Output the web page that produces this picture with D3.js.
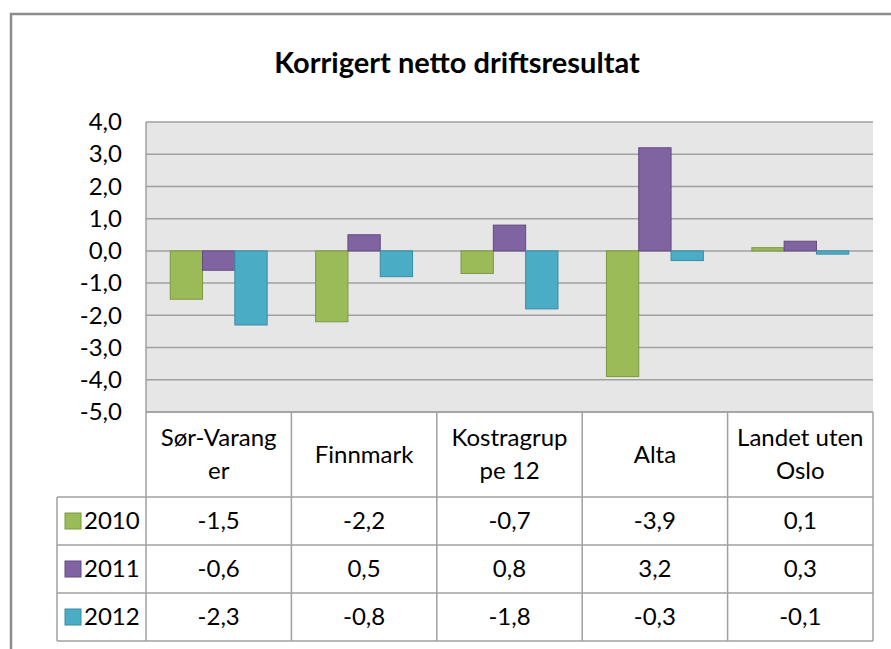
<!DOCTYPE html>
<html>
<head>
<meta charset="utf-8">
<script src="https://cdn.jsdelivr.net/npm/d3@7"></script>
<style>
  body { margin: 0; background: #fff; }
  svg { display: block; font-family: Lato, "Open Sans", sans-serif; }
</style>
</head>
<body>
<script>
// data
let categories = ["Sør-Varanger", "Finnmark", "Kostragruppe 12", "Alta", "Landet uten Oslo"]
let categoryLines = [["Sør-Varang", "er"], ["Finnmark"], ["Kostragrup", "pe 12"], ["Alta"], ["Landet uten", "Oslo"]]
let series = ["2010", "2011", "2012"]
let values2010 = [-1.5, -2.2, -0.7, -3.9, 0.1]
let values2011 = [-0.6, 0.5, 0.8, 3.2, 0.3]
let values2012 = [-2.3, -0.8, -1.8, -0.3, -0.1]
let yTicks = [4, 3, 2, 1, 0, -1, -2, -3, -4, -5]
let title = "Korrigert netto driftsresultat"

let colors = ["#9BBB59", "#8064A2", "#4BACC6"]
let strokes = ["#7A9A3E", "#604A80", "#3A8CA3"]
let allValues = [values2010, values2011, values2012]

let W = 891, H = 649
let plotLeft = 146, plotRight = 873, plotTop = 122, plotBottom = 412
let headerBottom = 497
let rowH = (641 - headerBottom) / 3

let fmt = d3.formatLocale({decimal: ",", thousands: " ", grouping: [3], currency: ["", ""], minus: "-"}).format(".1f")

let svg = d3.select("body").append("svg")
    .attr("width", W)
    .attr("height", H)

// outer chart border
svg.append("rect")
    .attr("x", 11)
    .attr("y", 14)
    .attr("width", W + 20)
    .attr("height", H + 20)
    .style("fill", "#fff")
    .style("stroke", "#8c8c8c")
    .style("stroke-width", 2.5)

// title
svg.append("text")
    .attr("x", 457)
    .attr("y", 73)
    .attr("text-anchor", "middle")
    .style("font-size", "29px")
    .style("font-weight", "bold")
    .style("fill", "#000")
    .text(title)

// scales
let x = d3.scaleBand().domain(categories).range([plotLeft, plotRight])
let xSub = d3.scaleBand().domain(series).range([0, x.bandwidth()]).paddingOuter(0.75)
let y = d3.scaleLinear().domain([-5, 4]).range([plotBottom, plotTop])

// plot area
svg.append("rect")
    .attr("x", plotLeft)
    .attr("y", plotTop)
    .attr("width", plotRight - plotLeft)
    .attr("height", plotBottom - plotTop)
    .style("fill", "#E6E6E6")

svg.append("g")
    .selectAll("line")
    .data(yTicks)
    .join("line")
    .attr("x1", plotLeft)
    .attr("x2", plotRight)
    .attr("y1", d => y(d))
    .attr("y2", d => y(d))
    .style("stroke", "#A0A0A0")
    .style("stroke-width", 1.5)

svg.append("line")
    .attr("x1", plotLeft).attr("x2", plotLeft)
    .attr("y1", plotTop).attr("y2", plotBottom)
    .style("stroke", "#A0A0A0")
    .style("stroke-width", 1.5)

// y axis
let yAxis = d3.axisLeft(y).tickValues(yTicks).tickSize(0).tickPadding(24).tickFormat(fmt)
let gy = svg.append("g")
    .attr("transform", `translate(${plotLeft},0)`)
    .call(yAxis)
gy.select(".domain").remove()
gy.selectAll("text")
    .style("font-family", "Lato, 'Open Sans', sans-serif")
    .style("font-size", "24px")
    .style("fill", "#000")

// bars
series.forEach((s, si) => {
  svg.append("g")
      .selectAll("rect")
      .data(allValues[si])
      .join("rect")
      .attr("x", (d, i) => x(categories[i]) + xSub(s))
      .attr("y", d => y(Math.max(0, d)))
      .attr("width", xSub.bandwidth())
      .attr("height", d => Math.abs(y(d) - y(0)))
      .style("fill", colors[si])
      .style("stroke", strokes[si])
      .style("stroke-width", 1)
})

// data table
let table = svg.append("g")
let lineStyle = sel => sel.style("stroke", "#A0A0A0").style("stroke-width", 1.5)

// header verticals
table.selectAll(".hv")
    .data(categories.concat(["end"]))
    .join("line")
    .attr("x1", (d, i) => i < categories.length ? x(d) : plotRight)
    .attr("x2", (d, i) => i < categories.length ? x(d) : plotRight)
    .attr("y1", plotBottom)
    .attr("y2", 641)
    .call(lineStyle)

// horizontal rows
table.append("line")
    .attr("x1", plotLeft).attr("x2", plotRight)
    .attr("y1", plotBottom).attr("y2", plotBottom)
    .call(lineStyle)
d3.range(4).forEach(r => {
  table.append("line")
      .attr("x1", 57).attr("x2", plotRight)
      .attr("y1", headerBottom + r * rowH).attr("y2", headerBottom + r * rowH)
      .call(lineStyle)
})
table.append("line")
    .attr("x1", 57).attr("x2", 57)
    .attr("y1", headerBottom).attr("y2", 641)
    .call(lineStyle)

// header labels
categoryLines.forEach((lines, i) => {
  let cx = x(categories[i]) + x.bandwidth() / 2
  let cy = (plotBottom + headerBottom) / 2
  let lh = 33
  lines.forEach((ln, j) => {
    table.append("text")
        .attr("x", cx)
        .attr("y", cy + (j - (lines.length - 1) / 2) * lh)
        .attr("dy", "0.35em")
        .attr("text-anchor", "middle")
        .style("font-size", "24px")
        .style("fill", "#000")
        .text(ln)
  })
})

// legend + values
series.forEach((s, si) => {
  let cy = headerBottom + (si + 0.5) * rowH
  table.append("rect")
      .attr("x", 65)
      .attr("y", cy - 8)
      .attr("width", 16)
      .attr("height", 16)
      .style("fill", colors[si])
      .style("stroke", strokes[si])
      .style("stroke-width", 1)
  table.append("text")
      .attr("x", 84)
      .attr("y", cy)
      .attr("dy", "0.35em")
      .style("font-size", "24px")
      .style("fill", "#000")
      .text(s)
  table.selectAll(".v" + si)
      .data(allValues[si])
      .join("text")
      .attr("x", (d, i) => x(categories[i]) + x.bandwidth() / 2)
      .attr("y", cy)
      .attr("dy", "0.35em")
      .attr("text-anchor", "middle")
      .style("font-size", "24px")
      .style("fill", "#000")
      .text(d => fmt(d))
})
</script>
</body>
</html>
